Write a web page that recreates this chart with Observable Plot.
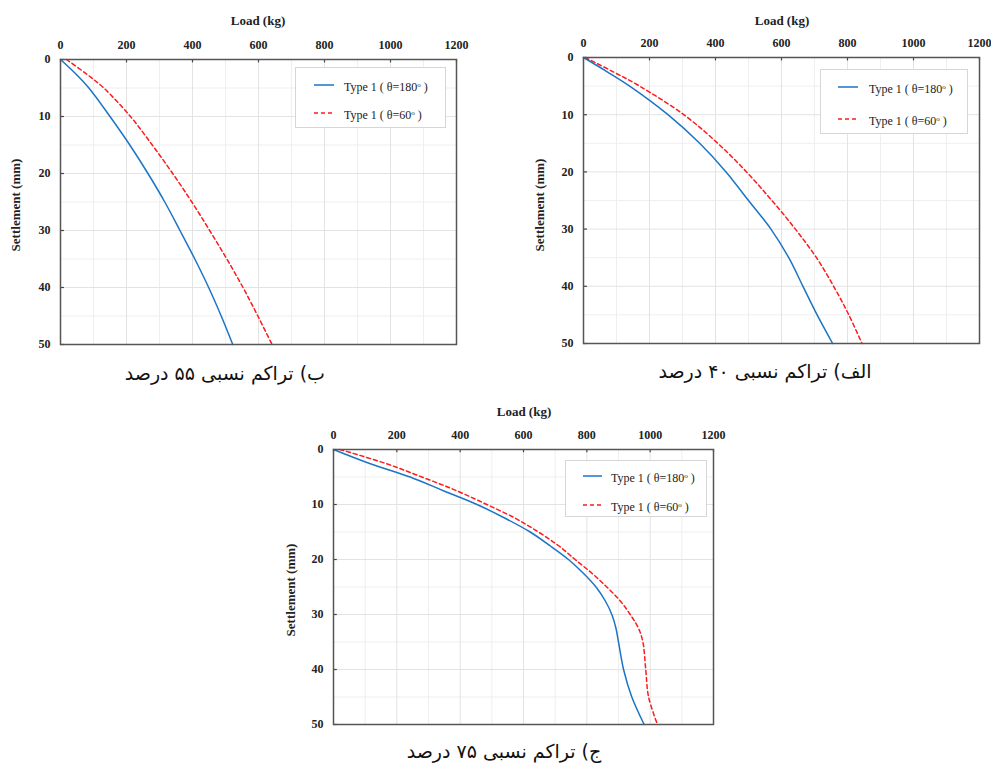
<!DOCTYPE html>
<html><head><meta charset="utf-8">
<script src="https://cdn.jsdelivr.net/npm/d3@7"></script>
<script src="https://cdn.jsdelivr.net/npm/@observablehq/plot@0.6"></script>
<style>
body{margin:0;background:#fff;width:991px;height:767px;position:relative;overflow:hidden;font-family:"Liberation Serif",serif}
.panel{position:absolute}
.panel svg{overflow:visible}
.atitle{position:absolute;font:bold 13px "Liberation Serif",serif;color:#222;white-space:nowrap}
.legend{position:absolute;border:1px solid #d6d6d6;background:#fff;font:12px "Liberation Serif",serif;color:#222;box-sizing:border-box}
.legend .row{position:absolute;left:0;height:16px;line-height:16px;white-space:nowrap}
.legend sup{font-size:7px;vertical-align:4px}
.caption{position:absolute;font-family:"DejaVu Sans",sans-serif;font-size:19px;direction:rtl;text-align:center;color:#111;white-space:nowrap}
</style></head><body>
<script>
// ---- tick values ----
const xTicks = [0, 200, 400, 600, 800, 1000, 1200];
const xMinor = [100, 300, 500, 700, 900, 1100];
const yTicks = [0, 10, 20, 30, 40, 50];
const yMinor = [5, 15, 25, 35, 45];

// ---- series labels ----
const seriesNames = ["Type 1 ( θ=180", "Type 1 ( θ=60"];

// ---- Panel ب (55%) ----
const settleB = [0, 2.5, 5, 10, 15, 20, 25, 30, 35, 40, 45, 50];
const loadB180 = [0, 46, 86, 150, 210, 265, 316, 362, 407, 449, 487, 522];
const loadB60 = [18, 78, 131, 212, 278, 340, 398, 452, 504, 553, 598, 641];

// ---- Panel الف (40%) ----
const settleA = [0, 2.5, 5, 10, 15, 20, 25, 30, 35, 40, 45, 50];
const loadA180 = [0, 72, 140, 256, 352, 432, 500, 568, 622, 665, 708, 755];
const loadA60 = [5, 90, 170, 304, 407, 494, 571, 642, 706, 758, 804, 844];

// ---- Panel ج (75%) ----
const settleC = [0, 2.5, 5, 7.5, 10, 12.5, 15, 17.5, 20, 22.5, 25, 27.5, 30, 32.5, 35, 40, 45, 50];
const loadC180 = [0, 112, 242, 347, 453, 542, 621, 684, 742, 789, 829, 858, 879, 892, 900, 916, 942, 981];
const loadC60 = [20, 163, 279, 389, 484, 574, 647, 711, 763, 816, 863, 905, 937, 963, 977, 986, 995, 1023];

const BLUE = "#1b75c6", RED = "#ff1a1a";

function rows(loads, settle) { return loads.map((l, i) => ({load: l, s: settle[i]})); }

function chart(c) {
  return Plot.plot({
    width: c.width, height: c.height,
    marginLeft: c.ml, marginRight: c.mr, marginTop: c.mt, marginBottom: c.mb,
    style: {fontFamily: "Liberation Serif, serif", fontSize: "12px", fontWeight: "bold", color: "#222", background: "transparent", overflow: "visible"},
    x: {domain: [0, 1200], axis: "top", ticks: xTicks, tickSize: 0, tickPadding: 11, tickFormat: d => String(d), label: null},
    y: {domain: [0, 50], reverse: true, axis: "left", ticks: yTicks, tickSize: 0, tickPadding: 10, tickFormat: d => String(d), label: null},
    marks: [
      Plot.ruleX(xMinor, {stroke: "#efefef"}),
      Plot.ruleY(yMinor, {stroke: "#efefef"}),
      Plot.ruleX(xTicks, {stroke: "#e3e3e3"}),
      Plot.ruleY(yTicks, {stroke: "#e3e3e3"}),
      Plot.ruleX(xTicks, {y1: 0, y2: 0.6, stroke: "#444", strokeWidth: 1.2}),
      Plot.ruleY(yTicks, {x1: 0, x2: 12, stroke: "#444", strokeWidth: 1.2}),
      Plot.line(rows(c.l60, c.settle), {x: "load", y: "s", stroke: RED, strokeWidth: 1.5, strokeDasharray: "4,3", curve: "catmull-rom"}),
      Plot.line(rows(c.l180, c.settle), {x: "load", y: "s", stroke: BLUE, strokeWidth: 1.5, curve: "catmull-rom"}),
      Plot.frame({stroke: "#555", strokeWidth: 1.5})
    ]
  });
}

function place(el, left, top) {
  const d = document.createElement("div");
  d.className = "panel"; d.style.left = left + "px"; d.style.top = top + "px";
  d.appendChild(el); document.body.appendChild(d);
}
function text(cls, html, css) {
  const d = document.createElement("div");
  d.className = cls; d.innerHTML = html; Object.assign(d.style, css);
  document.body.appendChild(d); return d;
}
function axisTitles(cx, ty, sx, sy) {
  text("atitle", "Load (kg)", {left: (cx - 60) + "px", width: "120px", textAlign: "center", top: (ty - 8) + "px"});
  text("atitle", "Settlement (mm)", {left: (sx - 60) + "px", width: "120px", textAlign: "center", top: (sy - 8) + "px", transform: "rotate(-90deg)"});
}
function legend(left, top, w, h, lx1, lx2, tx, r1, r2) {
  const d = document.createElement("div");
  d.className = "legend";
  Object.assign(d.style, {left: left + "px", top: top + "px", width: w + "px", height: h + "px"});
  const cols = [BLUE, RED], dash = ["", "4,3"], ys = [r1, r2];
  seriesNames.forEach((n, i) => {
    const r = document.createElement("div");
    r.className = "row"; r.style.top = (ys[i] - 8) + "px"; r.style.width = w + "px";
    r.innerHTML = `<svg width="${w}" height="16" style="position:absolute;left:0;top:0"><line x1="${lx1}" x2="${lx2}" y1="8" y2="8" stroke="${cols[i]}" stroke-width="1.5" stroke-dasharray="${dash[i]}"/></svg>` +
      `<span style="position:absolute;left:${tx}px;top:0">${n}<sup>o</sup> )</span>`;
    d.appendChild(r);
  });
  document.body.appendChild(d);
}

// Panel ب (top-left)
place(chart({width: 480, height: 352, ml: 60, mr: 24, mt: 59, mb: 8, settle: settleB, l180: loadB180, l60: loadB60}), 0, 0);
axisTitles(258, 21, 16, 205);
legend(295, 67, 151, 61, 18, 38, 48, 17, 45);
text("caption", "ب) تراکم نسبی ۵۵ درصد", {left: "125px", width: "200px", top: "362px"});

// Panel الف (top-right)
place(chart({width: 471, height: 352, ml: 63, mr: 12, mt: 57, mb: 9, settle: settleA, l180: loadA180, l60: loadA60}), 520, 0);
axisTitles(782, 21, 540, 205);
legend(820, 69, 148, 65, 17, 37, 48, 17, 49);
text("caption", "الف) تراکم نسبی ۴۰ درصد", {left: "655px", width: "220px", top: "360px"});

// Panel ج (bottom)
place(chart({width: 460, height: 340, ml: 63, mr: 17, mt: 54, mb: 11, settle: settleC, l180: loadC180, l60: loadC60}), 270, 395);
axisTitles(524, 412, 291, 590);
legend(565, 460, 142, 57, 17, 36, 45, 15, 44);
text("caption", "ج) تراکم نسبی ۷۵ درصد", {left: "404px", width: "200px", top: "740px"});
</script>
</body></html>
